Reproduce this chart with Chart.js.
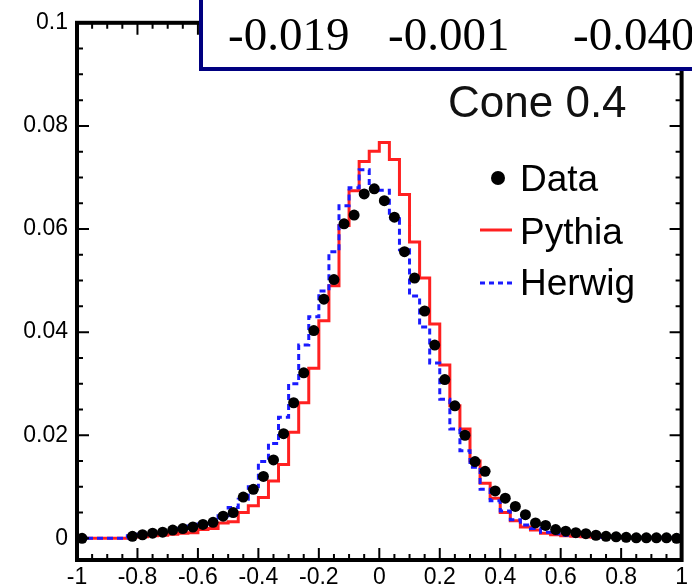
<!DOCTYPE html>
<html>
<head>
<meta charset="utf-8">
<script src="https://cdn.jsdelivr.net/npm/chart.js@4.4.0/dist/chart.umd.min.js"></script>
<style>
  html, body { margin: 0; padding: 0; background: #fff; }
  #wrap { width: 692px; height: 588px; }
</style>
</head>
<body>
<div id="wrap"><canvas id="myChart" width="692" height="588"></canvas></div>
<script>
// histogram binning: 60 bins of width 1/30 between -1 and 1
const xLow = -1;
const xHigh = 1;
const nBins = 60;

// bin contents, left to right
const dataValues = [
  0, null, null, null, null, 0.0004, 0.0007, 0.0010, 0.0012, 0.0016,
  0.0019, 0.0022, 0.0027, 0.0031, 0.0043, 0.0050, 0.0080, 0.0095, 0.0120, 0.0152,
  0.0203, 0.0263, 0.0321, 0.0403, 0.0464, 0.0502, 0.0610, 0.0627, 0.0668, 0.0678,
  0.0655, 0.0623, 0.0556, 0.0505, 0.0441, 0.0375, 0.0308, 0.0257, 0.0200, 0.0149,
  0.0130, 0.0092, 0.0078, 0.0062, 0.0046, 0.0030, 0.0025, 0.0017, 0.0014, 0.0011,
  0.0009, 0.0006, 0.0004, 0.0003, 0.0002, 0.0001, 0.0001, 0.0001, 0.0001, 0.0000
];
const pythiaValues = [
  0, 0, 0, 0, 0, 0.00025, 0.0003, 0.0005, 0.0006, 0.0008,
  0.0010, 0.0011, 0.0017, 0.0019, 0.0030, 0.0032, 0.0050, 0.0063, 0.0079, 0.0111,
  0.0143, 0.0206, 0.0263, 0.0330, 0.0422, 0.0490, 0.0607, 0.0674, 0.0731, 0.0751,
  0.0768, 0.0735, 0.0667, 0.0575, 0.0505, 0.0416, 0.0336, 0.0257, 0.0212, 0.0150,
  0.0107, 0.0078, 0.0050, 0.0034, 0.0022, 0.0016, 0.0010, 0.0007, 0.0005, 0.0004,
  0.0003, 0.0002, 0.0002, 0.0002, 0.0001, 0.0001, 0.0001, 0.0001, 0.0001, 0.0001
];
const herwigValues = [
  0, 0, 0, 0, 0, 0.0005, 0.0008, 0.0011, 0.0013, 0.0017,
  0.0019, 0.0024, 0.0028, 0.0033, 0.0044, 0.0060, 0.0076, 0.0100, 0.0149, 0.0184,
  0.0235, 0.0300, 0.0375, 0.0430, 0.0480, 0.0556, 0.0645, 0.0680, 0.0715, 0.0680,
  0.0675, 0.0620, 0.0560, 0.0470, 0.0410, 0.0340, 0.0270, 0.0212, 0.0170, 0.0138,
  0.0095, 0.0073, 0.0053, 0.0036, 0.0026, 0.0019, 0.0012, 0.0009, 0.0006, 0.0005,
  0.0004, 0.0003, 0.0002, 0.0002, 0.0001, 0.0001, 0.0001, 0.0001, 0.0001, 0.0001
];

const xTicks = [-1, -0.8, -0.6, -0.4, -0.2, 0, 0.2, 0.4, 0.6, 0.8, 1];
const xTickLabels = ["-1", "-0.8", "-0.6", "-0.4", "-0.2", "0", "0.2", "0.4", "0.6", "0.8", "1"];
const yTicks = [0, 0.02, 0.04, 0.06, 0.08, 0.1];
const yTickLabels = ["0", "0.02", "0.04", "0.06", "0.08", "0.1"];

const boxNumbers = ["-0.019", "-0.001", "-0.040"];
const coneLabel = "Cone 0.4";
const seriesNames = ["Data", "Pythia", "Herwig"];

const binWidth = (xHigh - xLow) / nBins;
const binEdges = [];
for (let i = 0; i <= nBins; i++) binEdges.push(xLow + i * binWidth);

function stepPoints(values) {
  const pts = values.map((v, i) => ({ x: binEdges[i], y: v }));
  pts.push({ x: binEdges[nBins], y: values[nBins - 1] });
  return pts;
}
function centerPoints(values) {
  return values.map((v, i) => ({ x: binEdges[i] + binWidth / 2, y: v }));
}

// frame with inward ticks, like the original root style plot
const framePlugin = {
  id: "frame",
  afterDatasetsDraw(chart) {
    const ctx = chart.ctx;
    const a = chart.chartArea;
    const xs = chart.scales.x;
    const ys = chart.scales.y;
    ctx.save();
    ctx.strokeStyle = "#000";
    ctx.lineWidth = 2;
    for (let k = 0; k <= 40; k++) {
      const v = -1 + k * 0.05;
      const px = xs.getPixelForValue(v);
      const len = k % 4 === 0 ? 12 : 6;
      ctx.beginPath();
      ctx.moveTo(px, a.bottom); ctx.lineTo(px, a.bottom - len);
      ctx.moveTo(px, a.top); ctx.lineTo(px, a.top + len);
      ctx.stroke();
    }
    for (let k = 0; k <= 20; k++) {
      const v = k * 0.005;
      const py = ys.getPixelForValue(v);
      const len = k % 4 === 0 ? 12 : 6;
      ctx.beginPath();
      ctx.moveTo(a.left, py); ctx.lineTo(a.left + len, py);
      ctx.moveTo(a.right, py); ctx.lineTo(a.right - len, py);
      ctx.stroke();
    }
    ctx.lineWidth = 4;
    ctx.strokeRect(a.left, a.top, a.right - a.left, a.bottom - a.top);
    ctx.restore();
  },
  afterDraw(chart) {
    const ctx = chart.ctx;
    ctx.save();
    // results box at the top
    ctx.fillStyle = "#fff";
    ctx.fillRect(201, -10, 600, 79);
    ctx.strokeStyle = "#000080";
    ctx.lineWidth = 4;
    ctx.strokeRect(201, -10, 600, 79);
    ctx.fillStyle = "#000";
    ctx.font = "47px 'Liberation Serif'";
    ctx.textBaseline = "alphabetic";
    ctx.fillText(boxNumbers[0], 228, 50);
    ctx.fillText(boxNumbers[1], 388, 50);
    ctx.fillText(boxNumbers[2], 573, 50);

    // cone label
    ctx.fillStyle = "#111";
    ctx.font = "44px 'Liberation Sans'";
    ctx.fillText(coneLabel, 448, 117);

    // legend
    ctx.font = "37px 'Liberation Sans'";
    ctx.fillStyle = "#000";
    ctx.beginPath();
    ctx.arc(498, 178, 7, 0, Math.PI * 2);
    ctx.fill();
    ctx.fillText(seriesNames[0], 520, 191);

    ctx.strokeStyle = "#ff2020";
    ctx.lineWidth = 3;
    ctx.beginPath();
    ctx.moveTo(480, 230); ctx.lineTo(512, 230);
    ctx.stroke();
    ctx.fillText(seriesNames[1], 520, 244);

    ctx.strokeStyle = "#1a1aff";
    ctx.setLineDash([5, 4]);
    ctx.beginPath();
    ctx.moveTo(480, 283); ctx.lineTo(512, 283);
    ctx.stroke();
    ctx.setLineDash([]);
    ctx.fillText(seriesNames[2], 520, 295);
    ctx.restore();
  }
};

Chart.defaults.font.family = "'Liberation Sans', Arial, sans-serif";
Chart.defaults.color = "#000";

const ctx = document.getElementById("myChart").getContext("2d");
const myChart = new Chart(ctx, {
  type: "line",
  data: {
    datasets: [
      {
        label: seriesNames[0],
        data: centerPoints(dataValues),
        showLine: false,
        pointRadius: 5.5,
        pointBackgroundColor: "#000",
        pointBorderWidth: 0,
        order: 0
      },
      {
        label: seriesNames[2],
        data: stepPoints(herwigValues),
        stepped: true,
        borderColor: "#1a1aff",
        borderWidth: 3,
        borderDash: [6, 4],
        pointRadius: 0,
        fill: false,
        order: 1
      },
      {
        label: seriesNames[1],
        data: stepPoints(pythiaValues),
        stepped: true,
        borderColor: "#ff2020",
        borderWidth: 3,
        pointRadius: 0,
        fill: false,
        order: 2
      }
    ]
  },
  options: {
    responsive: false,
    animation: false,
    devicePixelRatio: 1,
    layout: { padding: { top: 15, right: 7, left: 0, bottom: 0 } },
    plugins: { legend: { display: false }, tooltip: { enabled: false } },
    scales: {
      x: {
        type: "linear",
        min: xLow,
        max: xHigh,
        afterBuildTicks: (scale) => { scale.ticks = xTicks.map(v => ({ value: v })); },
        afterFit: (scale) => { scale.height = 28; },
        grid: { display: false, drawTicks: false },
        border: { display: false },
        ticks: {
          autoSkip: false,
          maxRotation: 0,
          padding: 4,
          font: { size: 23 },
          callback: (value, index) => xTickLabels[index]
        }
      },
      y: {
        type: "linear",
        min: -0.0042,
        max: 0.1,
        afterBuildTicks: (scale) => { scale.ticks = yTicks.map(v => ({ value: v })); },
        afterFit: (scale) => { scale.width = 77; },
        grid: { display: false, drawTicks: false },
        border: { display: false },
        ticks: {
          padding: 9,
          font: { size: 23 },
          callback: (value, index) => yTickLabels[index]
        }
      }
    }
  },
  plugins: [framePlugin]
});
</script>
</body>
</html>
